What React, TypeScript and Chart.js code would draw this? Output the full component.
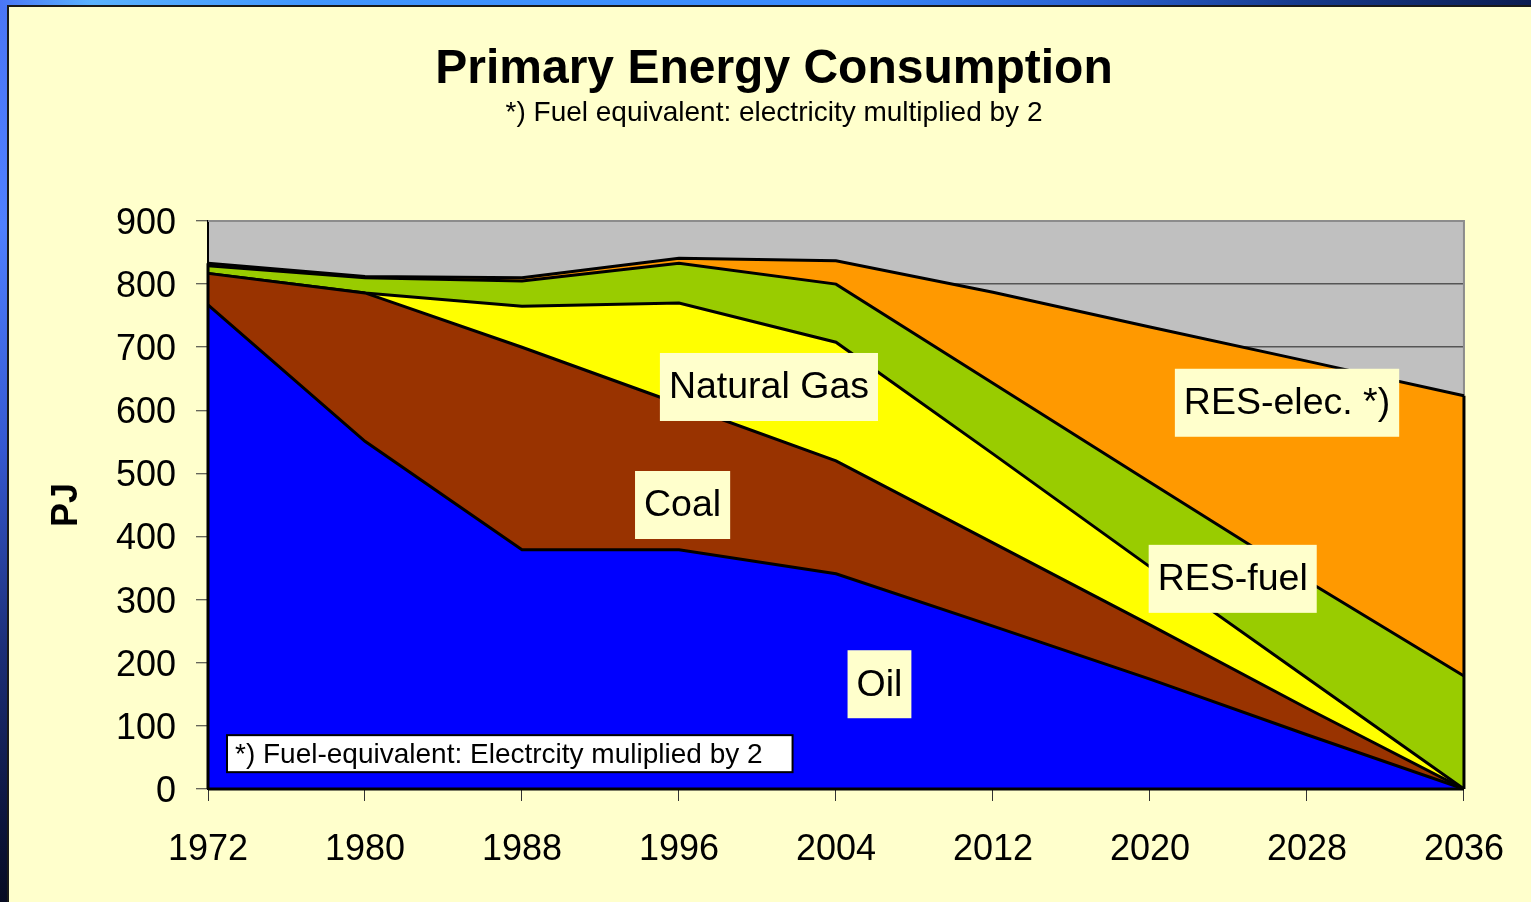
import React, { useEffect, useRef } from 'react';
import { Chart, registerables } from 'chart.js';

Chart.register(...registerables);

// ---- data (PJ) ----
const years = ['1972', '1980', '1988', '1996', '2004', '2012', '2020', '2028', '2036'];
const oil = [767, 551, 379, 379, 341, 258, 174, 86, 0];
const coal = [50, 235, 321, 231, 179, 132, 86, 42, 0];
const naturalGas = [0, 0, 65, 160, 188, 141, 92, 48, 0];
const resFuel = [12, 24, 40, 63, 92, 112, 134, 154, 179];
const resElec = [4, 2, 5, 8, 37, 144, 246, 348, 444];

const seriesNames = ['Oil', 'Coal', 'Natural Gas', 'RES-fuel', 'RES-elec. *)'];
const seriesColors = ['#0000FF', '#993300', '#FFFF00', '#99CC00', '#FF9900'];

const yMin = 0;
const yMax = 900;
const yStep = 100;

const titleText = 'Primary Energy Consumption';
const subtitleText = '*) Fuel equivalent: electricity multiplied by 2';
const yAxisTitle = 'PJ';
const noteText = '*) Fuel-equivalent: Electrcity muliplied by 2';

// in-chart labels: [text, x (category index), y (PJ)]
const areaLabels: [string, number, number][] = [
  ['Natural Gas', 3.573, 637],
  ['Coal', 3.023, 450],
  ['RES-elec. *)', 6.873, 612],
  ['RES-fuel', 6.527, 333],
  ['Oil', 4.277, 166],
];
const notePos: [number, number] = [0.121, 56];

const FONT = '"Liberation Sans", Arial, Helvetica, sans-serif';

const decorPlugin = {
  id: 'decor',
  beforeDraw(chart: any) {
    const { ctx, chartArea: a } = chart;
    ctx.save();
    ctx.fillStyle = '#C0C0C0';
    ctx.fillRect(a.left, a.top, a.right - a.left, a.bottom - a.top);
    ctx.restore();
  },
  beforeDatasetsDraw(chart: any) {
    const { ctx, chartArea: a } = chart;
    ctx.save();
    ctx.strokeStyle = '#8c8c8c';
    ctx.lineWidth = 2;
    ctx.beginPath();
    ctx.moveTo(a.left, a.top);
    ctx.lineTo(a.right, a.top);
    ctx.lineTo(a.right, a.bottom);
    ctx.stroke();
    ctx.restore();
  },
  afterDatasetsDraw(chart: any) {
    const { ctx, chartArea: a } = chart;
    const xs = chart.scales.x;
    const ys = chart.scales.y;
    const n = years.length;
    const total = (i: number) => oil[i] + coal[i] + naturalGas[i] + resFuel[i] + resElec[i];
    ctx.save();
    ctx.strokeStyle = '#000';
    ctx.lineWidth = 3;
    ctx.beginPath();
    const x0 = xs.getPixelForValue(0);
    const x1 = xs.getPixelForValue(n - 1);
    ctx.moveTo(x0, ys.getPixelForValue(0));
    ctx.lineTo(x0, ys.getPixelForValue(total(0)));
    ctx.moveTo(x1, ys.getPixelForValue(0));
    ctx.lineTo(x1, ys.getPixelForValue(total(n - 1)));
    ctx.moveTo(a.left, a.bottom);
    ctx.lineTo(a.right, a.bottom);
    ctx.stroke();
    ctx.restore();
  },
  afterDraw(chart: any) {
    const { ctx } = chart;
    const xs = chart.scales.x;
    const ys = chart.scales.y;
    ctx.save();
    // titles
    ctx.fillStyle = '#000';
    ctx.textAlign = 'center';
    ctx.textBaseline = 'alphabetic';
    ctx.font = `bold 48px ${FONT}`;
    ctx.fillText(titleText, 774, 83);
    ctx.font = `28px ${FONT}`;
    ctx.fillText(subtitleText, 774, 121);

    // area labels
    ctx.font = `37.5px ${FONT}`;
    areaLabels.forEach(([t, xi, yv]) => {
      const cx = xs.getPixelForValue(xi);
      const cy = ys.getPixelForValue(yv);
      const w = ctx.measureText(t).width + 18;
      const h = 68;
      ctx.fillStyle = '#FFFFCC';
      ctx.fillRect(cx - w / 2, cy - h / 2, w, h);
      ctx.fillStyle = '#000';
      ctx.textAlign = 'center';
      ctx.textBaseline = 'middle';
      ctx.fillText(t, cx, cy + 1);
    });

    // note box
    ctx.font = `28px ${FONT}`;
    const nx = xs.getPixelForValue(notePos[0]);
    const ny = ys.getPixelForValue(notePos[1]);
    const nw = ctx.measureText(noteText).width + 38;
    const nh = 37;
    ctx.fillStyle = '#FFFFFF';
    ctx.fillRect(nx, ny - nh / 2, nw, nh);
    ctx.strokeStyle = '#000';
    ctx.lineWidth = 2;
    ctx.strokeRect(nx, ny - nh / 2, nw, nh);
    ctx.fillStyle = '#000';
    ctx.textAlign = 'left';
    ctx.textBaseline = 'middle';
    ctx.fillText(noteText, nx + 8, ny + 2);
    ctx.restore();
  },
};

export default function App() {
  const canvasRef = useRef<HTMLCanvasElement>(null);

  useEffect(() => {
    if (!canvasRef.current) return;
    const dataArrays = [oil, coal, naturalGas, resFuel, resElec];
    const chart = new Chart(canvasRef.current, {
      type: 'line',
      data: {
        labels: years,
        datasets: dataArrays.map((d, i) => ({
          label: seriesNames[i],
          data: d,
          backgroundColor: seriesColors[i],
          borderColor: '#000000',
          borderWidth: 3,
          fill: i === 0 ? 'origin' : '-1',
          pointRadius: 0,
          pointHoverRadius: 0,
          tension: 0,
          stack: 'energy',
        })),
      },
      options: {
        animation: false,
        responsive: false,
        maintainAspectRatio: false,
        events: [],
        layout: { padding: { top: 221, right: 66, left: 0, bottom: 0 } },
        plugins: {
          legend: { display: false },
          title: { display: false },
          tooltip: { enabled: false },
        },
        scales: {
          x: {
            type: 'category',
            offset: false,
            afterFit: (s: any) => {
              s.height = 113;
            },
            grid: {
              display: true,
              drawOnChartArea: false,
              drawTicks: true,
              tickLength: 12,
              tickColor: '#333',
              tickWidth: 1,
            },
            border: { display: true, color: '#000', width: 2 },
            ticks: {
              color: '#000',
              font: { family: FONT, size: 36 },
              padding: 27,
              maxRotation: 0,
              autoSkip: false,
            },
          },
          y: {
            stacked: true,
            min: yMin,
            max: yMax,
            afterFit: (s: any) => {
              s.width = 208;
            },
            grid: {
              color: '#555555',
              lineWidth: 1.5,
              drawTicks: true,
              tickLength: 12,
              tickColor: '#333',
              tickWidth: 1,
            },
            border: { display: true, color: '#000', width: 2 },
            ticks: {
              stepSize: yStep,
              color: '#000',
              font: { family: FONT, size: 36 },
              padding: 20,
              labelOffset: 3,
            },
            title: {
              display: true,
              text: yAxisTitle,
              color: '#000',
              font: { family: FONT, size: 36, weight: 'bold' },
              padding: { top: 45, bottom: 0 },
            },
          },
        },
      },
      plugins: [decorPlugin],
    } as any);
    return () => chart.destroy();
  }, []);

  return (
    <div
      style={{
        position: 'absolute',
        left: 0,
        top: 0,
        width: 1531,
        height: 902,
        overflow: 'hidden',
        background: '#0c1a4a',
      }}
    >
      <div
        style={{
          position: 'absolute',
          left: 0,
          top: 0,
          width: 9,
          height: 902,
          background:
            'linear-gradient(to bottom, #4a76f6 0%, #4f80ff 25%, #3558d0 50%, #1c2f78 72%, #0d1640 90%, #070b22 100%)',
        }}
      />
      <div
        style={{
          position: 'absolute',
          left: 0,
          top: 0,
          width: 1531,
          height: 7,
          background:
            'linear-gradient(to right, #4a76f6 0%, #5ab2ff 6%, #4196ff 20%, #3a8aff 55%, #2a60d0 72%, #163a8c 85%, #0c1d52 100%)',
        }}
      />
      <div
        style={{
          position: 'absolute',
          left: 7,
          top: 5,
          right: 0,
          bottom: 0,
          background: '#FFFFCC',
          borderTop: '2px solid #1a1a1a',
          borderLeft: '2px solid #1a1a1a',
        }}
      />
      <canvas
        ref={canvasRef}
        width={1531}
        height={902}
        style={{ position: 'absolute', left: 0, top: 0, width: 1531, height: 902, display: 'block' }}
      />
    </div>
  );
}
